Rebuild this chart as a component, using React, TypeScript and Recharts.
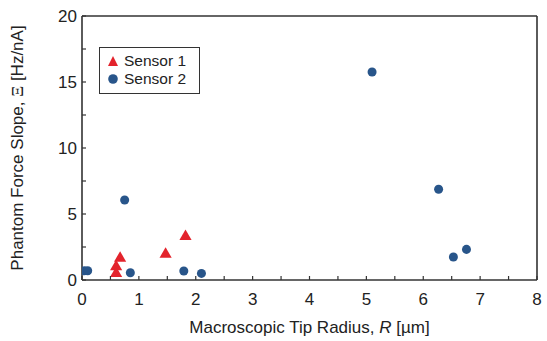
import {
  Scatter,
  ScatterChart,
  XAxis,
  YAxis,
  ZAxis,
} from 'recharts'

const sensor1 = [
  { r: 0.6, slope: 0.5 },
  { r: 0.6, slope: 1.0 },
  { r: 0.67, slope: 1.65 },
  { r: 1.47, slope: 1.95 },
  { r: 1.82, slope: 3.3 },
]

const sensor2 = [
  { r: 0.04, slope: 0.7 },
  { r: 0.1, slope: 0.7 },
  { r: 0.75, slope: 6.06 },
  { r: 0.85, slope: 0.55 },
  { r: 1.79, slope: 0.68 },
  { r: 2.1, slope: 0.5 },
  { r: 5.1, slope: 15.76 },
  { r: 6.27, slope: 6.87 },
  { r: 6.53, slope: 1.74 },
  { r: 6.76, slope: 2.32 },
]

const xTicks = [0, 0.5, 1, 1.5, 2, 2.5, 3, 3.5, 4, 4.5, 5, 5.5, 6, 6.5, 7, 7.5, 8]
const yTicks = [0, 2.5, 5, 7.5, 10, 12.5, 15, 17.5, 20]

const RED = '#e3232c'
const BLUE = '#28558a'
const AXIS = '#333'
const FONT = '"Liberation Sans", Arial, Helvetica, sans-serif'
const TICK_LEN = 4

function BottomTick({ x, y, payload }: any) {
  const v = payload.value as number
  return (
    <g>
      <line x1={x} x2={x} y1={y} y2={y - TICK_LEN} stroke={AXIS} strokeWidth={1.2} />
      {Number.isInteger(v) && (
        <text x={x} y={y + 25} textAnchor="middle" fontSize={17} fill="#222" fontFamily={FONT}>
          {v}
        </text>
      )}
    </g>
  )
}

function TopTick({ x, y }: any) {
  return <line x1={x} x2={x} y1={y} y2={y + TICK_LEN} stroke={AXIS} strokeWidth={1.2} />
}

function LeftTick({ x, y, payload }: any) {
  const v = payload.value as number
  return (
    <g>
      <line x1={x} x2={x + TICK_LEN} y1={y} y2={y} stroke={AXIS} strokeWidth={1.2} />
      {Number.isInteger(v) && (
        <text x={x - 5} y={y + 6} textAnchor="end" fontSize={17} fill="#222" fontFamily={FONT}>
          {v}
        </text>
      )}
    </g>
  )
}

function RightTick({ x, y }: any) {
  return <line x1={x} x2={x - TICK_LEN} y1={y} y2={y} stroke={AXIS} strokeWidth={1.2} />
}

function XLabel({ viewBox }: any) {
  const cx = viewBox.x + viewBox.width / 2
  return (
    <text x={cx} y={viewBox.y + 53} textAnchor="middle" fontSize={17} fill="#222" fontFamily={FONT}>
      Macroscopic Tip Radius, <tspan fontStyle="italic">R</tspan> [µm]
    </text>
  )
}

function YLabel({ viewBox }: any) {
  const cy = viewBox.y + viewBox.height / 2
  const cx = 23
  return (
    <text
      x={cx}
      y={cy}
      transform={`rotate(-90 ${cx} ${cy})`}
      textAnchor="middle"
      fontSize={17}
      fill="#222"
      fontFamily={FONT}
    >
      Phantom Force Slope, <tspan fontFamily='"Liberation Serif", "Times New Roman", serif'>Ξ</tspan> [Hz/nA]
    </text>
  )
}

function LegendBox() {
  const row = { display: 'flex', alignItems: 'center', height: 18 }
  return (
    <div
      style={{
        position: 'absolute',
        left: 99,
        top: 47,
        border: `1px solid ${AXIS}`,
        background: '#fff',
        width: 101,
        height: 47,
        boxSizing: 'border-box',
        padding: '4px 0 0 7px',
        fontFamily: FONT,
        fontSize: 15.5,
        color: '#222',
        lineHeight: '18px',
      }}
    >
      <div style={row}>
        <svg width={12} height={12} style={{ marginRight: 5 }}>
          <polygon points="6,1 11,11 1,11" fill={RED} />
        </svg>
        Sensor 1
      </div>
      <div style={row}>
        <svg width={12} height={12} style={{ marginRight: 5 }}>
          <circle cx={6} cy={6} r={4.8} fill={BLUE} />
        </svg>
        Sensor 2
      </div>
    </div>
  )
}

export default function App() {
  return (
    <div style={{ position: 'absolute', left: 0, top: 0, width: 547, height: 341, background: '#fff' }}>
      <ScatterChart width={547} height={341} margin={{ top: 0, right: 0, left: 0, bottom: 0 }}>
        <XAxis
          type="number"
          dataKey="r"
          domain={[0, 8]}
          ticks={xTicks}
          interval={0}
          tickSize={0}
          tickMargin={0}
          tickLine={false}
          tick={<BottomTick />}
          height={61}
          axisLine={{ stroke: AXIS, strokeWidth: 1.6 }}
          allowDataOverflow
          label={<XLabel />}
        />
        <XAxis
          xAxisId="top"
          orientation="top"
          type="number"
          domain={[0, 8]}
          ticks={xTicks}
          interval={0}
          tickSize={0}
          tickMargin={0}
          tickLine={false}
          tick={<TopTick />}
          height={16}
          axisLine={{ stroke: AXIS, strokeWidth: 1.6 }}
        />
        <YAxis
          type="number"
          dataKey="slope"
          domain={[0, 20]}
          ticks={yTicks}
          interval={0}
          tickSize={0}
          tickMargin={0}
          tickLine={false}
          tick={<LeftTick />}
          width={82}
          axisLine={{ stroke: AXIS, strokeWidth: 1.6 }}
          allowDataOverflow
          label={<YLabel />}
        />
        <YAxis
          yAxisId="right"
          orientation="right"
          type="number"
          domain={[0, 20]}
          ticks={yTicks}
          interval={0}
          tickSize={0}
          tickMargin={0}
          tickLine={false}
          tick={<RightTick />}
          width={10}
          axisLine={{ stroke: AXIS, strokeWidth: 1.6 }}
        />
        <ZAxis range={[70, 70]} />
        <Scatter name="Sensor 1" data={sensor1} fill={RED} shape="triangle" isAnimationActive={false} />
        <Scatter name="Sensor 2" data={sensor2} fill={BLUE} shape="circle" isAnimationActive={false} />
      </ScatterChart>
      <LegendBox />
    </div>
  )
}
